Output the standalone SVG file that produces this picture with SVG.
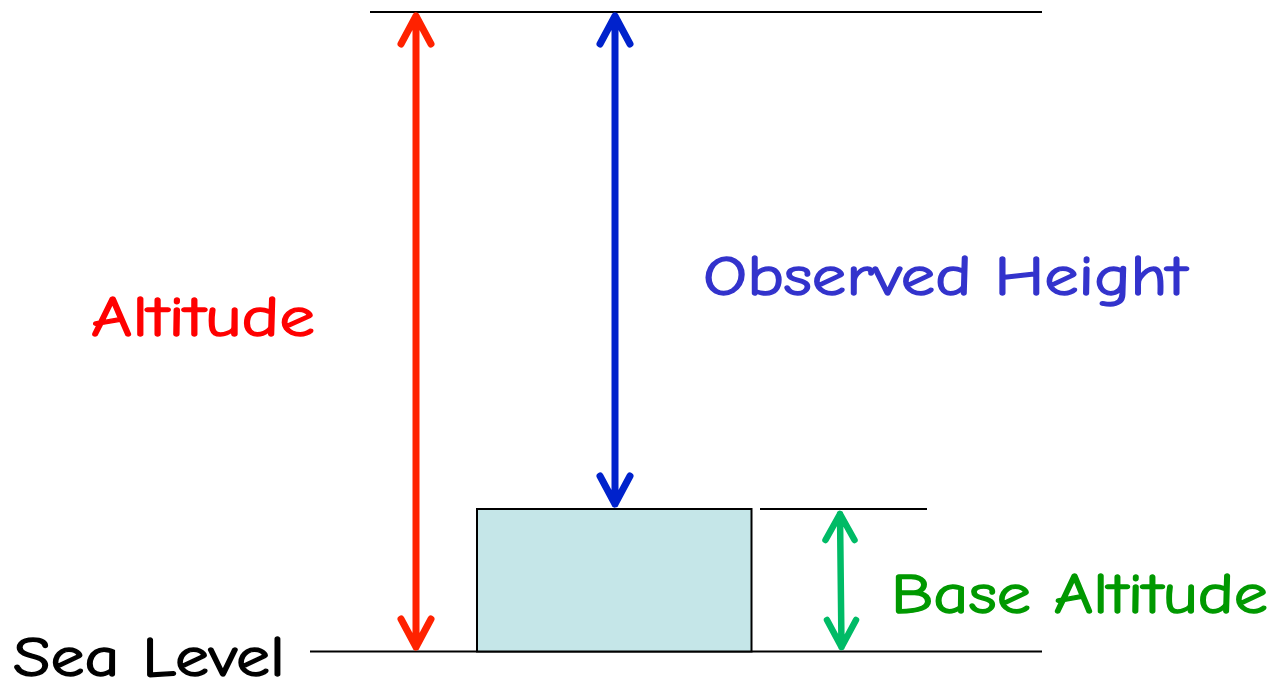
<svg xmlns="http://www.w3.org/2000/svg" width="1274" height="681" viewBox="0 0 1274 681">
<style>
.ref{stroke:#000;stroke-width:2;fill:none}
.arr{fill:none;stroke-linecap:round;stroke-linejoin:round}
.lbl{font-family:"Comic Sans MS","Comic Neue","Open Sans","DejaVu Sans",sans-serif;font-size:57px;stroke-width:1.4;stroke-linejoin:round}
</style>
<rect width="1274" height="681" fill="#fff"/>
<g id="reference-lines">
<line class="ref" x1="370" y1="12" x2="1042" y2="12"/>
<line class="ref" x1="310" y1="651.5" x2="1042" y2="651.5"/>
<line class="ref" x1="760" y1="509" x2="927" y2="509"/>
</g>
<g id="base-box">
<rect x="477" y="509" width="274.5" height="142.5" fill="#c5e6e8" stroke="#000" stroke-width="2"/>
</g>
<g id="connectors">
<path class="arr" stroke="#ff2200" stroke-width="7" d="M416,16 L416,647 M401,44 L416,16 L431,44 M401,619 L416,647 L431,619"/>
<path class="arr" stroke="#0022cc" stroke-width="7" d="M615,16 L615,504 M600,44 L615,16 L630,44 M600,476 L615,504 L630,476"/>
<path class="arr" stroke="#00bb66" stroke-width="6.5" d="M840,514 L841.5,647 M825.5,540 L840,514 L854.5,540 M827,620 L841.5,647 L856,620"/>
</g>
<g id="label-altitude"><text class="lbl" x="91" y="336" fill="#ff0000" stroke="#ff0000" textLength="224" lengthAdjust="spacingAndGlyphs">Altitude</text></g>
<g id="label-observed"><text class="lbl" x="703" y="295" fill="#3333cc" stroke="#3333cc" textLength="484" lengthAdjust="spacingAndGlyphs">Observed Height</text></g>
<g id="label-base"><text class="lbl" x="891" y="613" fill="#009900" stroke="#009900" textLength="377" lengthAdjust="spacingAndGlyphs">Base Altitude</text></g>
<g id="label-sea"><text class="lbl" x="13" y="676" fill="#000" stroke="#000" textLength="272" lengthAdjust="spacingAndGlyphs">Sea Level</text></g>
</svg>
